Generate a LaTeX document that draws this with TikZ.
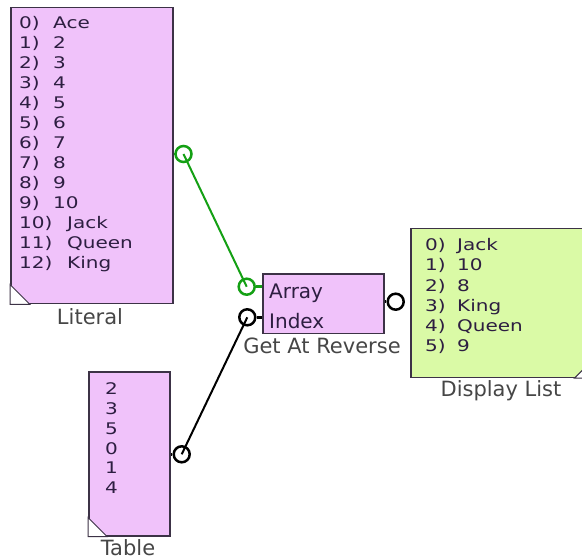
\documentclass[tikz,border=0pt]{standalone}
\usepackage{fontspec}
\setmainfont{DejaVu Sans}
\usepackage{graphicx}
\definecolor{pinkfill}{RGB}{240,194,250}
\definecolor{greenfill}{RGB}{218,250,166}
\definecolor{boxline}{RGB}{60,50,70}
\definecolor{txtc}{RGB}{45,30,65}
\definecolor{lblc}{RGB}{70,70,70}
\definecolor{wirec}{RGB}{20,160,20}
\begin{document}
\begin{tikzpicture}[x=1pt,y=-1pt,
  blk/.style={draw=boxline, line width=1.5pt, inner sep=0pt, anchor=north west},
  port/.style={circle, draw, line width=2.5pt, minimum size=16pt, inner sep=0pt},
  lst/.style={anchor=base west, inner sep=0pt, text=txtc, font=\fontsize{20}{20}\selectfont},
  pin/.style={anchor=base west, inner sep=0pt, text=txtc, font=\fontsize{20}{20}\selectfont},
  lbl/.style={anchor=base, inner sep=0pt, text=lblc, font=\fontsize{21}{21}\selectfont},
  cornertri/.style={fill=white, draw=boxline, line width=1pt},
  wire/.style={line width=2pt},
  stub/.style={line width=2.5pt}]
\path[use as bounding box, clip] (0,0) rectangle (582,559);
\fill[white] (0,0) rectangle (582,559);

% boxes
\node[blk, fill=pinkfill, minimum width=162pt, minimum height=296pt] (lit) at (10,7) {};
\node[blk, fill=pinkfill, minimum width=121.3pt, minimum height=59.4pt] (gar) at (262,273.3) {};
\node[blk, fill=greenfill, minimum width=183pt, minimum height=148.7pt] (disp) at (410,228) {};
\node[blk, fill=pinkfill, minimum width=81.3pt, minimum height=164pt] (tab) at (88,371) {};

% corner triangles
\draw[cornertri] (lit.south west) -- ++(0,-20) -- ++(20,20) -- cycle;
\draw[cornertri] (tab.south west) -- ++(0,-19) -- ++(19,19) -- cycle;
\draw[cornertri] (disp.south east) -- ++(0,-20) -- ++(-20,20) -- cycle;

% Literal list
\foreach \i/\v in {0/Ace,1/2,2/3,3/4,4/5,5/6,6/7,7/8,8/9,9/10}{
  \node[lst] (li\i) at (19,{28.3+20*\i}) {\scalebox{1}[0.8]{\i)}};
  \node[lst] (lv\i) at (53,{28.3+20*\i}) {\scalebox{1}[0.8]{\v}};
}
\foreach \i/\v in {10/Jack,11/Queen,12/King}{
  \node[lst] (li\i) at (19,{28.3+20*\i}) {\scalebox{1}[0.8]{\i)}};
  \node[lst] (lv\i) at (67,{28.3+20*\i}) {\scalebox{1}[0.8]{\v}};
}

% Display list
\foreach \i/\v in {0/Jack,1/10,2/8,3/King,4/Queen,5/9}{
  \node[lst] (di\i) at (425,{250.7+20.2*\i}) {\scalebox{1}[0.8]{\i)}};
  \node[lst] (dv\i) at (457,{250.7+20.2*\i}) {\scalebox{1}[0.8]{\v}};
}

% Table
\foreach \i/\v in {0/2,1/3,2/5,3/0,4/1,5/4}{
  \node[lst] (tv\i) at (105,{395+19.7*\i}) {\scalebox{1}[0.8]{\v}};
}

% Get At Reverse pins
\node[pin] (arr) at (269,298.7) {Array};
\node[pin] (idx) at (269,328.3) {Index};

% labels
\node[lbl] (litl) at (90,325) {Literal};
\node[lbl] (garl) at (322,353.3) {Get At Reverse};
\node[lbl] (displ) at (501,396.7) {Display List};
\node[lbl] (tabl) at (128,555) {Table};

% ports
\node[port, draw=wirec] (pL) at (183.5,154) {};
\node[port, draw=wirec] (pA) at (246.7,286.7) {};
\node[port, draw=black] (pI) at (247.3,317.3) {};
\node[port, draw=black] (pO) at (395.7,301.7) {};
\node[port, draw=black] (pT) at (181.7,454.3) {};

% stubs
\draw[stub, wirec] (lit.east |- pL) -- (pL.west);
\draw[stub, wirec] (pA.east) -- (gar.west |- pA);
\draw[stub, black] (pI.east) -- (gar.west |- pI);
\draw[stub, black] (gar.east |- pO) -- (pO.west);
\draw[stub, black] (tab.east |- pT) -- (pT.west);

% wires
\draw[wire, wirec] (pL.center) -- (pA.center);
\draw[wire, black] (pT.center) -- (pI.center);
\end{tikzpicture}
\end{document}
